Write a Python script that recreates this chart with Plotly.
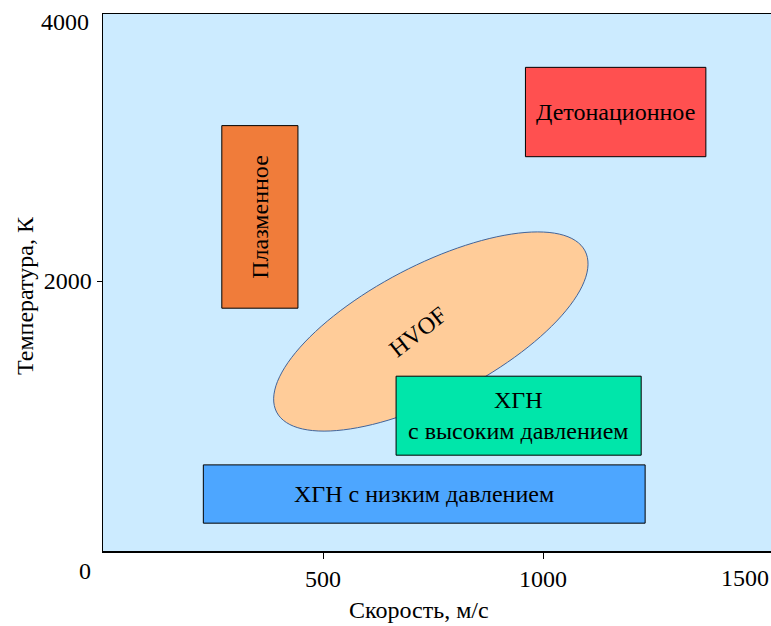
import numpy as np
import plotly.graph_objects as go

# ---- data (velocity m/s, temperature K) ----
rect_names = ["Детонационное", "Плазменное", "ХГН<br>с высоким давлением", "ХГН с низким давлением"]
rect_x0 = [960, 270, 666, 228]
rect_x1 = [1370, 443, 1223, 1232]
rect_y0 = [2960, 1790, 655, 130]
rect_y1 = [3650, 3200, 1265, 580]
rect_colors = ["#FF5050", "#F07C3A", "#00E6AA", "#4DA6FF"]
rect_text_angle = [0, -90, 0, 0]

hvof_name = "HVOF"
hvof_center_x = 745
hvof_center_y = 1610
hvof_semi_major_px = 174
hvof_semi_minor_px = 66
hvof_angle_deg = 27.6
hvof_color = "#FFCC99"

x_range = [0, 1518]
y_range = [-85, 4062]
x_tickvals = [500, 1000]
y_tickvals = [2000]

W, H = 771, 626
ML, MR, MT, MB = 103, 0, 14, 75
pw, ph = W - ML - MR, H - MT - MB
sx = pw / (x_range[1] - x_range[0])
sy = ph / (y_range[1] - y_range[0])

FONT = "Liberation Serif"
FS = 24

fig = go.Figure()

shapes = []
annotations = []

# ellipse (HVOF) drawn first
t = np.linspace(0, 2 * np.pi, 121)
th = np.deg2rad(hvof_angle_deg)
px = hvof_semi_major_px * np.cos(t) * np.cos(th) - hvof_semi_minor_px * np.sin(t) * np.sin(th)
py = hvof_semi_major_px * np.cos(t) * np.sin(th) + hvof_semi_minor_px * np.sin(t) * np.cos(th)
ex = hvof_center_x + px / sx
ey = hvof_center_y + py / sy
path = "M " + " L ".join(f"{a:.2f},{b:.2f}" for a, b in zip(ex, ey)) + " Z"
shapes.append(dict(type="path", path=path, xref="x", yref="y",
                   fillcolor=hvof_color, line=dict(color="#41649A", width=1), layer="above"))
annotations.append(dict(x=hvof_center_x - 30, y=hvof_center_y, text=hvof_name, showarrow=False,
                        textangle=-38, font=dict(family=FONT, size=FS, color="black")))

for name, x0, x1, y0, y1, c, ang in zip(rect_names, rect_x0, rect_x1, rect_y0, rect_y1, rect_colors, rect_text_angle):
    shapes.append(dict(type="rect", x0=x0, x1=x1, y0=y0, y1=y1, xref="x", yref="y",
                       fillcolor=c, line=dict(color="black", width=1), layer="above"))
    annotations.append(dict(x=(x0 + x1) / 2, y=(y0 + y1) / 2, text=name, showarrow=False,
                            textangle=ang, font=dict(family=FONT, size=FS, color="black")))

# special tick labels
annotations.append(dict(x=0, y=0, xref="paper", yref="paper", text="0", showarrow=False,
                        xanchor="center", yanchor="middle", xshift=-18, yshift=-20,
                        font=dict(family=FONT, size=FS, color="black")))
annotations.append(dict(x=0, y=4000, xref="paper", yref="y", text="4000", showarrow=False,
                        xanchor="right", yanchor="middle", xshift=-12,
                        font=dict(family=FONT, size=FS, color="black")))
annotations.append(dict(x=1500, y=0, xref="x", yref="paper", text="1500", showarrow=False,
                        xanchor="center", yanchor="top", xshift=-18, yshift=-12,
                        font=dict(family=FONT, size=FS, color="black")))
# axis titles
annotations.append(dict(x=(419 - ML) / pw, y=0, xref="paper", yref="paper", text="Скорость, м/с",
                        showarrow=False, xanchor="center", yanchor="middle", yshift=-59,
                        font=dict(family=FONT, size=FS, color="black")))
annotations.append(dict(x=0, y=1 - (296 - MT) / ph, xref="paper", yref="paper", text="Температура, К",
                        showarrow=False, textangle=-90, xanchor="center", yanchor="middle", xshift=-78,
                        font=dict(family=FONT, size=FS, color="black")))

fig.update_layout(
    width=W, height=H,
    margin=dict(l=ML, r=MR, t=MT, b=MB, pad=0),
    paper_bgcolor="white", plot_bgcolor="#CCEBFF",
    shapes=shapes, annotations=annotations, showlegend=False,
    xaxis=dict(range=x_range, tickvals=x_tickvals, ticks="outside", ticklen=6, tickcolor="black",
               showgrid=False, zeroline=False, showline=True, linecolor="black", linewidth=1.5, mirror=True,
               tickfont=dict(family=FONT, size=FS, color="black"), fixedrange=True),
    yaxis=dict(range=y_range, tickvals=y_tickvals, ticks="outside", ticklen=5, tickcolor="black",
               showgrid=False, zeroline=False, showline=True, linecolor="black", linewidth=1.5, mirror=False,
               tickfont=dict(family=FONT, size=FS, color="black"), fixedrange=True),
)

fig.write_html(
    "out.html",
    config={"displayModeBar": False, "staticPlot": True},
    post_script="document.body.style.margin='0';document.documentElement.style.overflow='hidden';",
)
